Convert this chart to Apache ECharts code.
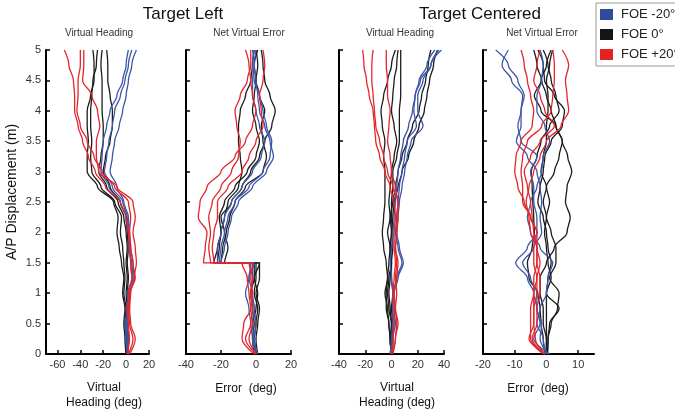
<!DOCTYPE html>
<html>
<head>
<meta charset="utf-8">
<script src="https://cdn.jsdelivr.net/npm/echarts@6/dist/echarts.min.js"></script>
<style>html,body{margin:0;padding:0;background:#fff}#c{width:675px;height:414px}</style>
</head>
<body>
<div id="c"></div>
<script>
// A/P displacement sample levels (m)
const dispFine = [0,0.25,0.5,0.75,1,1.25,1.5,1.75,2,2.25,2.5,2.75,3,3.25,3.5,3.75,4,4.25,4.5,4.75,5];
const dispJump = [0,0.25,0.5,0.75,1,1.25,1.5,1.5,1.75,2,2.25,2.5,2.75,3,3.25,3.5,3.75,4,4.25,4.5,4.75,5];

const yTicks = [0,0.5,1,1.5,2,2.5,3,3.5,4,4.5,5];
const xTicksLeftHeading = [-60,-40,-20,0,20];
const xTicksLeftError = [-40,-20,0,20];
const xTicksCenterHeading = [-40,-20,0,20,40];
const xTicksCenterError = [-20,-10,0,10];

const legendNames = ['FOE -20°','FOE 0°','FOE +20°'];

// Target Left — Virtual Heading (deg), values at dispFine
const leftHeadingBlue = [
  [1,0,-1,1,2,5,4,3,2,0,-5,-15,-22,-21,-20,-17,-14,-8,-3,0,2],
  [2,1,0,2,1,6,5,2,3,1,-3,-12,-19,-17,-15,-12,-10,-5,-1,2,5],
  [1,2,1,3,3,7,6,4,3,2,-2,-8,-14,-12,-10,-6,-3,0,2,5,9]
];
const leftHeadingBlack = [
  [0,-1,-2,-1,-3,-2,-4,-6,-8,-7,-11,-25,-34,-34,-33,-34,-34,-31,-28,-28,-29],
  [1,0,-1,0,-2,-1,-2,-3,-5,-4,-10,-22,-30,-31,-30,-31,-31,-30,-29,-26,-25],
  [0,1,0,1,0,1,0,1,0,-2,-7,-17,-24,-22,-20,-20,-21,-21,-21,-22,-21],
  [1,2,1,2,1,2,1,2,1,0,-5,-14,-20,-18,-14,-12,-12,-14,-16,-16,-17]
];
const leftHeadingRed = [
  [2,6,3,2,2,5,4,3,2,0,-5,-18,-27,-33,-38,-42,-45,-45,-46,-50,-54],
  [1,3,2,1,3,8,6,4,3,4,2,-10,-21,-28,-34,-40,-43,-42,-42,-40,-40],
  [3,8,4,3,4,7,9,8,6,8,6,-8,-24,-26,-26,-23,-25,-30,-38,-37,-37]
];

// Target Left — Net Virtual Error (deg), values at dispJump
const leftErrorBlue = [
  [0,-2,-3,-4,-6,-4,-3,-22,-22,-20,-18,-14,-8,-2,3,5,2,0,-2,-2,-1,-2],
  [1,-1,-2,-1,-3,-2,-2,-21,-20,-18,-16,-12,-4,4,8,9,6,4,2,-1,-2,-1],
  [0,-1,0,-1,-2,-4,-1,-20,-18,-16,-14,-10,-2,6,10,8,5,2,1,0,-1,0]
];
const leftErrorBlack = [
  [1,0,1,2,0,2,2,-22,-21,-20,-18,-16,-10,-8,-9,-10,-10,-9,-6,-3,-2,-1],
  [0,-1,0,1,-1,0,0,-18,-16,-18,-20,-14,-8,-3,2,5,9,11,8,5,4,3],
  [-1,-2,-1,-2,-3,-1,-1,-24,-22,-20,-21,-18,-12,-5,0,2,0,-2,-1,0,1,0],
  [0,-1,-2,0,1,-1,2,-20,-19,-17,-15,-12,-6,4,6,4,3,5,2,0,-1,1]
];
const leftErrorRed = [
  [-1,-8,-7,-3,-4,-5,-8,-30,-29,-28,-33,-32,-28,-20,-12,-6,-2,0,-2,-3,-4,-6],
  [0,-6,-3,-2,-3,-2,-4,-26,-27,-26,-27,-25,-20,-14,-10,-9,-11,-12,-9,-5,-3,-3],
  [0,-4,-2,-3,-2,-3,-2,-24,-25,-24,-22,-22,-16,-8,-4,0,4,3,2,4,5,4]
];

// Target Centered — Virtual Heading (deg), values at dispFine
const centerHeadingBlue = [
  [0,1,3,2,2,5,9,6,4,5,6,8,10,12,15,24,20,20,24,30,36],
  [0,1,2,1,1,4,8,5,3,4,5,6,8,10,12,19,17,18,22,30,38],
  [-1,0,1,1,1,0,-1,0,1,2,3,4,5,7,9,13,16,18,21,27,33]
];
const centerHeadingBlack = [
  [0,-1,-2,-4,-4,-3,-4,-6,-7,-6,-5,-5,-5,-6,-5,-7,-8,-6,-3,0,3],
  [0,-1,0,-1,-2,-1,0,-1,0,-1,-2,-1,0,2,4,2,0,1,2,4,5],
  [1,1,1,0,1,0,0,1,1,0,0,1,1,4,6,6,6,7,7,7,7],
  [-1,0,0,-2,-3,-2,0,-1,-3,-1,1,3,5,8,12,16,21,23,26,28,30],
  [0,-1,-2,-3,-5,-3,-2,-1,0,1,2,5,8,13,17,21,25,27,29,32,35]
];
const centerHeadingRed = [
  [0,1,2,2,1,2,3,2,2,3,2,-1,-5,-9,-12,-13,-14,-17,-19,-21,-22],
  [1,3,4,3,4,3,4,3,4,5,5,1,-3,-6,-9,-12,-13,-14,-15,-15,-14],
  [0,3,5,3,2,4,5,3,4,4,5,3,0,-1,-3,-2,-1,-3,-3,-4,-4]
];

// Target Centered — Net Virtual Error (deg), values at dispFine
const centerErrorBlue = [
  [1,-4,-2,-3,-4,-6,-9.7,-6,-3,-3,-4,-4,-5,-3,-8,-9,-8,-7,-9,-12,-16],
  [0.5,-2,-1.5,-3,-3,-5,-7.5,-4,-1.5,-2,-1.5,-2,-3,-6,-9.5,-8,-8,-7.5,-11,-14,-12],
  [0,-1,-3,-2,0,0.5,2,-2,-5,-6,-5,-3,-1.5,-1,1,-0.5,-3,-3,-1.5,-1,-2]
];
const centerErrorBlack = [
  [0,0,-1,-1,-2,-2,0,2.5,6.5,7.5,6,6.5,8,6.7,5,3,1.5,0,-1.5,-3,-4],
  [0.2,0.5,1.5,3.5,4,1,3,3,1.5,0,-1,0,2.5,4,5,3,-1.7,-3.8,-1.7,0,1.5],
  [0,0,0,0,0,0.5,1.5,0.5,0,-1,-2.7,-2,-1,-0.5,1.5,5,5.7,2.5,-0.6,-1,-2.7],
  [-0.4,-1,-1.7,-2,-2.7,-5.5,-6,-4.5,-3.8,-4,-4.3,-4.5,-4.8,-3,-1.7,1,4,3,1.5,0.5,-1],
  [0.4,0.5,1,4,0,1.5,0.5,0,-0.6,0,1,0,-1.7,-1,0,0,0.5,0.5,0,1,2]
];
const centerErrorRed = [
  [-1,-5,-5,-5,-4,-4,-3,-3,-3,-5,-7,-9,-10,-9.6,-8,-4.5,-4,-5,-6,-7,-8],
  [-0.5,-4.5,-3,-3,-2,-2,-3,-3,-4,-4.5,-5,-6,-7,-5,-2,2.5,-0.5,-2,-4,-3,-2],
  [-0.5,-5.5,-4,-4,-4,-3,-2,-3,-5,-5.5,-6.4,-5.5,-4,-2,0,4.6,7,6.5,6,7,5],
  [-0.4,-3.5,-4,-4,-3,-3,-4,-4,-3,-5,-7.5,-7.5,-8,-7.5,-6,-1.5,1.5,2,2.5,2.5,2]
];

const COLORS = {blue:'#3d56a8', black:'#1c1c1c', red:'#e3262b'};
const FONT = '"Liberation Sans", Arial, sans-serif';

const grids = [
  {left:46, top:50, width:103, height:304},
  {left:186, top:50, width:105, height:304},
  {left:339, top:50, width:105, height:304},
  {left:483, top:50, width:111, height:304}
];
const xRanges = [[-70,20],[-40,20],[-40,40],[-20,15]];
const xTickSets = [xTicksLeftHeading, xTicksLeftError, xTicksCenterHeading, xTicksCenterError];

const xAxes = grids.map((g,i)=>({
  type:'value', gridIndex:i, min:xRanges[i][0], max:xRanges[i][1],
  axisLine:{show:true, onZero:false, lineStyle:{color:'#000', width:2}},
  axisTick:{show:true, inside:true, length:4, customValues:xTickSets[i], lineStyle:{color:'#000', width:1.5}},
  axisLabel:{show:true, customValues:xTickSets[i], color:'#333', fontSize:11, fontFamily:FONT, margin:5},
  splitLine:{show:false}
}));
const yAxes = grids.map((g,i)=>({
  type:'value', gridIndex:i, min:0, max:5, interval:0.5,
  axisLine:{show:true, onZero:false, lineStyle:{color:'#000', width:2}},
  axisTick:{show:true, inside:true, length:4, lineStyle:{color:'#000', width:1.5}},
  axisLabel:{show:i===0, color:'#333', fontSize:11, fontFamily:FONT, margin:5},
  splitLine:{show:false}
}));

const series = [];
function addTraces(traces, disp, colorKey, name, gi){
  traces.forEach(t=>{
    series.push({
      type:'line', name:name, xAxisIndex:gi, yAxisIndex:gi,
      data: disp.map((y,k)=>[t[k], y]),
      showSymbol:false, symbol:'none', smooth:0.35, smoothMonotone:'y',
      lineStyle:{color:COLORS[colorKey], width:1.3},
      itemStyle:{color:COLORS[colorKey]},
      animation:false, silent:true
    });
  });
}
addTraces(leftHeadingBlack, dispFine, 'black', legendNames[1], 0);
addTraces(leftHeadingBlue, dispFine, 'blue', legendNames[0], 0);
addTraces(leftHeadingRed, dispFine, 'red', legendNames[2], 0);
addTraces(leftErrorBlack, dispJump, 'black', legendNames[1], 1);
addTraces(leftErrorBlue, dispJump, 'blue', legendNames[0], 1);
addTraces(leftErrorRed, dispJump, 'red', legendNames[2], 1);
addTraces(centerHeadingBlack, dispFine, 'black', legendNames[1], 2);
addTraces(centerHeadingBlue, dispFine, 'blue', legendNames[0], 2);
addTraces(centerHeadingRed, dispFine, 'red', legendNames[2], 2);
addTraces(centerErrorBlack, dispFine, 'black', legendNames[1], 3);
addTraces(centerErrorBlue, dispFine, 'blue', legendNames[0], 3);
addTraces(centerErrorRed, dispFine, 'red', legendNames[2], 3);

function txt(x,y,text,size,extra){
  return {type:'text', x:x, y:y, silent:true,
    style:Object.assign({text:text, fill:'#111', font:size+'px '+FONT, align:'center', verticalAlign:'middle'}, extra||{})};
}

const chart = echarts.init(document.getElementById('c'), null, {renderer:'canvas'});
chart.setOption({
  animation:false,
  backgroundColor:'#fff',
  grid: grids.map(g=>Object.assign({outerBoundsMode:'none', containLabel:false}, g)),
  xAxis: xAxes,
  yAxis: yAxes,
  legend:{
    data:[
      {name:legendNames[0], itemStyle:{color:'#2f4b9e'}},
      {name:legendNames[1], itemStyle:{color:'#151515'}},
      {name:legendNames[2], itemStyle:{color:'#e2231f'}}
    ],
    orient:'vertical', left:596, top:3, icon:'rect',
    itemWidth:13, itemHeight:11, itemGap:7,
    padding:[5,12,5,4], borderColor:'#9a9a9a', borderWidth:1,
    textStyle:{fontSize:13, color:'#222', fontFamily:FONT, padding:[0,0,0,3]},
    selectedMode:false
  },
  graphic:[
    txt(183,14,'Target Left',17),
    txt(480,14,'Target Centered',17),
    txt(99,33,'Virtual Heading',10,{fill:'#333'}),
    txt(249,33,'Net Virtual Error',10,{fill:'#333'}),
    txt(400,33,'Virtual Heading',10,{fill:'#333'}),
    txt(542,33,'Net Virtual Error',10,{fill:'#333'}),
    txt(104,388,'Virtual',12),
    txt(104,403,'Heading (deg)',12),
    txt(246,389,'Error  (deg)',12),
    txt(397,388,'Virtual',12),
    txt(397,403,'Heading (deg)',12),
    txt(538,389,'Error  (deg)',12),
    {type:'text', x:12, y:192, rotation:Math.PI/2, silent:true,
     style:{text:'A/P Displacement (m)', fill:'#111', font:'14px '+FONT, align:'center', verticalAlign:'middle'}}
  ],
  series: series
});
</script>
</body>
</html>
